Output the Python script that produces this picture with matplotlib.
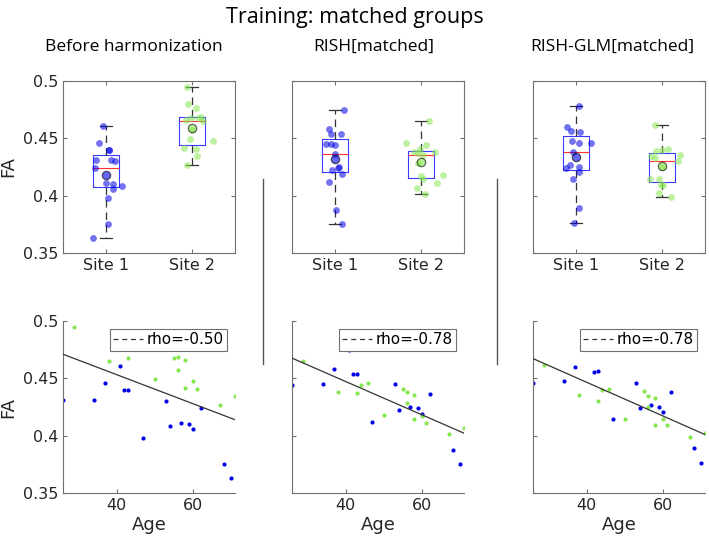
import matplotlib
matplotlib.use("Agg")
import matplotlib.pyplot as plt
import numpy as np
from matplotlib.lines import Line2D

# ages (shared by all three panels)
AGE_SITE1 = [26, 34, 37, 41, 42, 43, 47, 53, 54, 57, 59, 60, 62, 68, 70]
AGE_SITE2 = [29, 38, 43, 44, 46, 50, 55, 56, 56, 58, 58, 60, 61, 67, 71]

# FA per panel and site
FA_BEFORE_SITE1 = [0.431, 0.431, 0.4458, 0.461, 0.440, 0.440, 0.398, 0.430, 0.4085, 0.411, 0.410, 0.406, 0.424, 0.3756, 0.3634]
FA_BEFORE_SITE2 = [0.495, 0.465, 0.468, 0.4796, 0.4767, 0.4496, 0.4679, 0.4688, 0.4572, 0.4659, 0.4417, 0.4473, 0.4403, 0.427, 0.4345]
FA_RISH_SITE1 = [0.4444, 0.4452, 0.4578, 0.475, 0.454, 0.454, 0.4117, 0.4447, 0.422, 0.4246, 0.4237, 0.419, 0.4362, 0.3873, 0.375]
FA_RISH_SITE2 = [0.465, 0.438, 0.437, 0.4444, 0.4458, 0.4184, 0.4406, 0.4377, 0.4281, 0.4356, 0.4141, 0.4172, 0.4112, 0.4018, 0.4068]
FA_GLM_SITE1 = [0.4458, 0.4476, 0.4595, 0.478, 0.4557, 0.4566, 0.4141, 0.4457, 0.4237, 0.4265, 0.4253, 0.4205, 0.4377, 0.3893, 0.3765]
FA_GLM_SITE2 = [0.4616, 0.4356, 0.4301, 0.4394, 0.4406, 0.4141, 0.4391, 0.4345, 0.4251, 0.4327, 0.4097, 0.4146, 0.4091, 0.3989, 0.4027]

# horizontal jitter of the box-plot dots
JITTER_BEFORE_SITE1 = [-0.12, 0.06, -0.08, -0.03, 0.03, 0.04, 0.02, 0.10, 0.19, 0.0, 0.085, 0.077, -0.13, 0.02, -0.15]
JITTER_BEFORE_SITE2 = [-0.06, 0.13, -0.01, -0.05, 0.05, -0.02, 0.07, 0.11, 0.0, -0.07, -0.09, 0.24, 0.05, -0.06, 0.06]
JITTER_RISH_SITE1 = [0.0, -0.105, -0.066, 0.11, -0.047, 0.074, -0.07, -0.05, -0.035, 0.047, 0.04, 0.08, 0.0, 0.016, 0.08]
JITTER_RISH_SITE2 = [0.09, -0.08, -0.03, 0.06, -0.18, 0.26, -0.01, 0.16, -0.04, 0.02, 0.02, 0.0, 0.19, 0.05, -0.05]
JITTER_GLM_SITE1 = [0.18, -0.05, -0.1, 0.03, 0.05, -0.06, -0.04, 0.035, -0.12, -0.07, 0.03, 0.035, -0.03, 0.04, -0.02]
JITTER_GLM_SITE2 = [-0.08, 0.21, 0.19, 0.0, 0.07, -0.14, -0.065, -0.13, 0.0, -0.08, 0.01, -0.04, -0.01, 0.1, -0.03]

PANEL_TITLES = ["Before harmonization", "RISH[matched]", "RISH-GLM[matched]"]
RHO_LABELS = ["rho=-0.50", "rho=-0.78", "rho=-0.78"]
SITE_LABELS = ["Site 1", "Site 2"]

BLUE = "#0000e6"
GREEN = "#88e650"
AX_COLOR = "#707070"
TXT = "#262626"

plt.rcParams.update({
    "font.size": 11,
    "axes.edgecolor": AX_COLOR,
    "axes.linewidth": 0.8,
    "xtick.color": AX_COLOR,
    "ytick.color": AX_COLOR,
    "xtick.labelcolor": TXT,
    "ytick.labelcolor": TXT,
    "xtick.direction": "in",
    "ytick.direction": "in",
    "xtick.major.size": 3,
    "ytick.major.size": 3,
    "xtick.labelsize": 11.5,
    "ytick.labelsize": 11.5,
})

fig = plt.figure(figsize=(7.09, 5.41), dpi=100)

panels = [
    (FA_BEFORE_SITE1, FA_BEFORE_SITE2, JITTER_BEFORE_SITE1, JITTER_BEFORE_SITE2),
    (FA_RISH_SITE1, FA_RISH_SITE2, JITTER_RISH_SITE1, JITTER_RISH_SITE2),
    (FA_GLM_SITE1, FA_GLM_SITE2, JITTER_GLM_SITE1, JITTER_GLM_SITE2),
]
lefts = [63, 292, 533]
W, H = 709, 541
aw, ah = 172 / W, 172 / H
title_x = [134, 374, 612]

yticks = [0.35, 0.4, 0.45, 0.5]
ytick_labels = ["0.35", "0.4", "0.45", "0.5"]

for i, (fa1, fa2, jit1, jit2) in enumerate(panels):
    left = lefts[i] / W

    # --- box plot with jittered points ---
    ax = fig.add_axes([left, 1 - 253 / H, aw, ah])
    ax.boxplot([fa1, fa2], positions=[1, 2], widths=0.3, whis=(0, 100), showfliers=False,
               boxprops=dict(color="#3a3aff", lw=0.8),
               medianprops=dict(color="#ff3030", lw=0.8),
               whiskerprops=dict(color="#333333", lw=0.9, ls=(0, (6, 4))),
               capprops=dict(color="#333333", lw=0.9))
    for pos, fa, jit, col in [(1, fa1, jit1, BLUE), (2, fa2, jit2, GREEN)]:
        ax.scatter(pos + np.array(jit), fa, s=24, color=col, alpha=0.55, lw=0, zorder=3)
        ax.scatter([pos], [np.mean(fa)], s=36, facecolor=col, alpha=0.6,
                   edgecolor="black", lw=0.9, zorder=4)
    ax.set_xlim(0.5, 2.5)
    ax.set_ylim(0.35, 0.5)
    ax.set_xticks([1, 2], SITE_LABELS)
    ax.set_yticks(yticks)
    ax.tick_params(top=True, right=True)
    if i == 0:
        ax.set_yticklabels(ytick_labels)
        ax.set_ylabel("FA", fontsize=13, color=TXT, labelpad=4)
    else:
        ax.set_yticklabels([])

    # --- scatter vs age ---
    bx = fig.add_axes([left, 1 - 493 / H, aw, ah])
    bx.scatter(AGE_SITE1, fa1, s=9, color=BLUE, lw=0, zorder=2)
    bx.scatter(AGE_SITE2, fa2, s=9, color=GREEN, lw=0, zorder=2)
    ages = np.array(AGE_SITE1 + AGE_SITE2)
    fas = np.array(fa1 + fa2)
    k, b = np.polyfit(ages, fas, 1)
    xs = np.array([ages.min(), ages.max()])
    bx.plot(xs, k * xs + b, color="#333333", lw=0.9, zorder=3)
    handle = Line2D([], [], color="#333333", lw=0.9, ls=(0, (4, 3)))
    leg = bx.legend([handle], [RHO_LABELS[i]], loc="upper right", fontsize=11,
                    frameon=True, fancybox=False, framealpha=1, borderaxespad=0.55,
                    borderpad=0.2, handlelength=2.0, handletextpad=0.2)
    leg.get_frame().set_edgecolor(AX_COLOR)
    leg.get_frame().set_linewidth(0.8)
    leg.set_zorder(5)
    bx.set_xlim(ages.min(), ages.max())
    bx.set_ylim(0.35, 0.5)
    bx.set_xticks([40, 60])
    bx.set_yticks(yticks)
    bx.spines["top"].set_visible(False)
    bx.spines["right"].set_visible(False)
    bx.set_xlabel("Age", fontsize=13, color=TXT, labelpad=2)
    if i == 0:
        bx.set_yticklabels(ytick_labels)
        bx.set_ylabel("FA", fontsize=13, color=TXT, labelpad=4)
    else:
        bx.set_yticklabels([])

    fig.text(title_x[i] / W, 1 - 47 / H, PANEL_TITLES[i], ha="center", va="center",
             fontsize=12.5, family="Open Sans", color="black")

# vertical separators
for x in [263, 497]:
    fig.add_artist(Line2D([x / W, x / W], [1 - 179 / H, 1 - 364 / H],
                          transform=fig.transFigure, color="#555555", lw=1.0))

fig.text(355 / W, 1 - 17 / H, "Training: matched groups", ha="center", va="center",
         fontsize=15.5, family="Open Sans", color="black")

fig.savefig("out.png", dpi=100)
